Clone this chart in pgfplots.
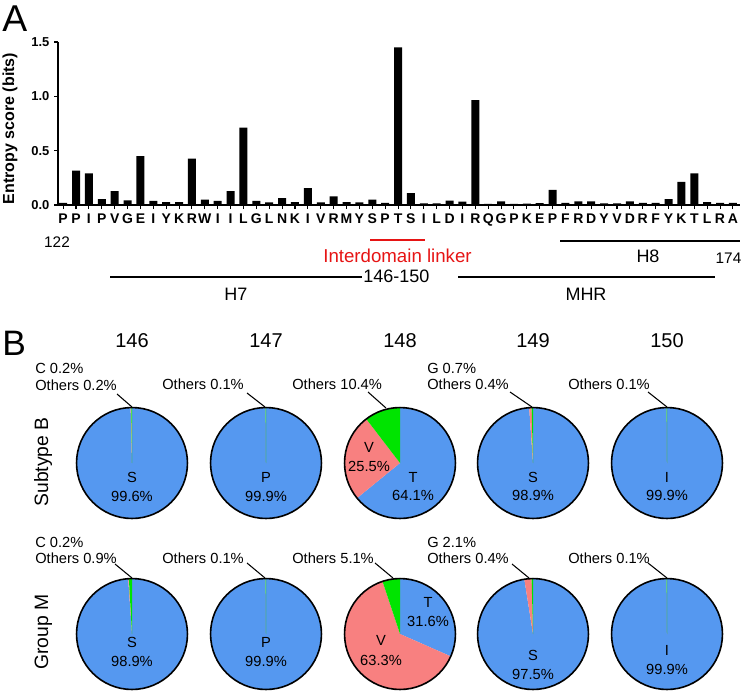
\documentclass[border=0pt]{standalone}
\usepackage{fontspec}
\setmainfont{Liberation Sans}
\usepackage{pgfplots}
\pgfplotsset{compat=1.18}
\definecolor{pieblue}{RGB}{85,152,240}
\definecolor{piered}{RGB}{248,128,128}
\definecolor{piegreen}{RGB}{0,228,0}
\definecolor{linkred}{RGB}{230,20,20}
\newcommand\fs[1]{\fontsize{#1}{#1}\selectfont}
% pie: center x, center y (px), main %, second %, others %
\newcommand\piechart[5]{%
 \fill[pieblue] (axis cs:#1,#2) -- ++(90:41.6pt) arc[start angle=90,end angle={90-3.6*(#3)},radius=41.6pt] -- cycle;
 \fill[piered] (axis cs:#1,#2) -- ++({90-3.6*(#3)}:41.6pt) arc[start angle={90-3.6*(#3)},end angle={90-3.6*(#3+#4)},radius=41.6pt] -- cycle;
 \fill[piegreen] (axis cs:#1,#2) -- ++({90-3.6*(#3+#4)}:41.6pt) arc[start angle={90-3.6*(#3+#4)},end angle=-270,radius=41.6pt] -- cycle;
 \draw[line width=1.2pt] (axis cs:#1,#2) circle[radius=41.6pt];
}
\begin{document}
\begin{tikzpicture}
\path[use as bounding box] (0pt,0pt) rectangle (562.5pt,-524.25pt);
% ---------------- Panel A: entropy bars ----------------
\begin{axis}[
  at={(43.5pt,-153.75pt)}, anchor=south west,
  scale only axis, width=511.5pt, height=122.25pt,
  xmin=0.6, xmax=53.55, ymin=0, ymax=1.5,
  enlargelimits=false,
  axis x line=bottom, axis y line=left,
  axis line style={-, line width=1pt},
  tick align=outside, major tick length=3pt,
  tick style={black, line width=0.8pt},
  xtick={1,...,53},
  xticklabels={P,P,I,P,V,G,E,I,Y,K,R,W,I,I,L,G,L,N,K,I,V,R,M,Y,S,P,T,S,I,L,D,I,R,Q,G,P,K,E,P,F,R,D,Y,V,D,R,F,Y,K,T,L,R,A},
  xticklabel style={font=\bfseries\fs{10.5}, anchor=base, yshift=-10.5pt},
  ytick={0,0.5,1,1.5},
  yticklabels={0.0,0.5,1.0,1.5},
  yticklabel style={font=\bfseries\fs{9.7}},
  clip=false,
]
\addplot[ybar, bar width=6pt, fill=black, draw=none] coordinates {
(1,0.02) (2,0.317) (3,0.29) (4,0.055) (5,0.128) (6,0.043) (7,0.45) (8,0.037) (9,0.027) (10,0.027)
(11,0.427) (12,0.049) (13,0.037) (14,0.128) (15,0.713) (16,0.037) (17,0.024) (18,0.064) (19,0.027) (20,0.155)
(21,0.024) (22,0.079) (23,0.027) (24,0.024) (25,0.05) (26,0.02) (27,1.45) (28,0.11) (29,0.015) (30,0.015)
(31,0.04) (32,0.03) (33,0.965) (34,0.01) (35,0.034) (36,0.01) (37,0.012) (38,0.018) (39,0.14) (40,0.02)
(41,0.034) (42,0.034) (43,0.015) (44,0.015) (45,0.034) (46,0.02) (47,0.02) (48,0.055) (49,0.213) (50,0.29)
(51,0.027) (52,0.02) (53,0.02)
};
\end{axis}
% ---------------- Panel B: pies (axis in pixel units) ----------------
\begin{axis}[
  at={(0pt,0pt)}, anchor=north west,
  x=0.75pt, y=0.75pt, y dir=reverse,
  xmin=0, xmax=750, ymin=0, ymax=699,
  hide axis, clip=false,
]
% Subtype B
\piechart{132}{463}{99.6}{0.2}{0.2}
\piechart{266}{463}{99.9}{0}{0.1}
\piechart{400}{463}{64.1}{25.5}{10.4}
\piechart{533}{463}{98.9}{0.7}{0.4}
\piechart{667}{463}{99.9}{0}{0.1}
% Group M
\piechart{132}{634}{98.9}{0.2}{0.9}
\piechart{266}{634}{99.9}{0}{0.1}
\piechart{400}{634}{31.6}{63.3}{5.1}
\piechart{533}{634}{97.5}{2.1}{0.4}
\piechart{667}{634}{99.9}{0}{0.1}
\end{axis}
% ---------------- annotations (pixel coordinates) ----------------
\begin{scope}[x=0.75pt,y=-0.75pt]
\node[anchor=base west, inner sep=0, font=\fs{28}] at (2,32) {A};
\node[anchor=base west, inner sep=0, font=\fs{26.5}] at (2,355) {B};
\node[rotate=90, anchor=base, inner sep=0, font=\bfseries\fs{12}] at (14,128.5) {Entropy score (bits)};
% panel A annotations
\node[anchor=base, inner sep=0, font=\fs{11.5}] at (57,247) {122};
\draw[linkred, line width=1.3pt] (370,240) -- (425,240);
\node[anchor=base, inner sep=0, font=\fs{14}, text=linkred] at (397.5,262) {Interdomain linker};
\draw[line width=1.3pt] (110,277) -- (362,277);
\node[anchor=base west, inner sep=0, font=\fs{13.5}] at (363,282) {146-150};
\node[anchor=base, inner sep=0, font=\fs{13.5}] at (236,300) {H7};
\draw[line width=1.3pt] (560,241) -- (740,241);
\node[anchor=base, inner sep=0, font=\fs{13.5}] at (648,262) {H8};
\node[anchor=base, inner sep=0, font=\fs{11.5}] at (728.5,263) {174};
\draw[line width=1.3pt] (458,277) -- (715,277);
\node[anchor=base, inner sep=0, font=\fs{13.5}] at (586,300) {MHR};
% panel B headers
\foreach \cx/\t in {132/146,266/147,400/148,533/149,667/150}
  \node[anchor=base, inner sep=0, font=\fs{15}] at (\cx,347) {\t};
\node[rotate=90, anchor=base, inner sep=0, font=\fs{14.5}] at (48,462) {Subtype B};
\node[rotate=90, anchor=base, inner sep=0, font=\fs{14.5}] at (48,632) {Group M};
% annotations row B
\begin{scope}[every node/.style={anchor=base west, inner sep=0, font=\fs{11}}]
\node at (35,373) {C 0.2\%};
\node at (35,390) {Others 0.2\%};
\node at (162,389) {Others 0.1\%};
\node at (292,389) {Others 10.4\%};
\node at (427,373) {G 0.7\%};
\node at (427,389) {Others 0.4\%};
\node at (568,389) {Others 0.1\%};
\node at (35,547) {C 0.2\%};
\node at (35,563) {Others 0.9\%};
\node at (162,563) {Others 0.1\%};
\node at (292,563) {Others 5.1\%};
\node at (427,547) {G 2.1\%};
\node at (427,563) {Others 0.4\%};
\node at (568,563) {Others 0.1\%};
\end{scope}
\begin{scope}[line width=0.8pt]
\draw (117,394) -- (132,407);
\draw (247,393) -- (265,407);
\draw (368,392) -- (386,408);
\draw (510,392) -- (532,407);
\draw (648,392) -- (667,407);
\draw (115,564) -- (132,578);
\draw (247,563) -- (265,578);
\draw (375,563) -- (393,578);
\draw (512,564) -- (529,578);
\draw (648,563) -- (667,578);
\end{scope}
% labels inside pies
\begin{scope}[every node/.style={anchor=base, inner sep=0, font=\fs{11}}]
\node at (132,482) {S}; \node at (132,501) {99.6\%};
\node at (266,482) {P}; \node at (266,501) {99.9\%};
\node at (413,482) {T}; \node at (413,500) {64.1\%};
\node at (369,452) {V}; \node at (369,471) {25.5\%};
\node at (533,482) {S}; \node at (533,500) {98.9\%};
\node at (667,482) {I}; \node at (667,500) {99.9\%};
\node at (132,647) {S}; \node at (132,666) {98.9\%};
\node at (266,647) {P}; \node at (266,666) {99.9\%};
\node at (428,607) {T}; \node at (428,626) {31.6\%};
\node at (381,645) {V}; \node at (381,665) {63.3\%};
\node at (533,660) {S}; \node at (533,679) {97.5\%};
\node at (667,655) {I}; \node at (667,674) {99.9\%};
\end{scope}
\end{scope}
\end{tikzpicture}
\end{document}
